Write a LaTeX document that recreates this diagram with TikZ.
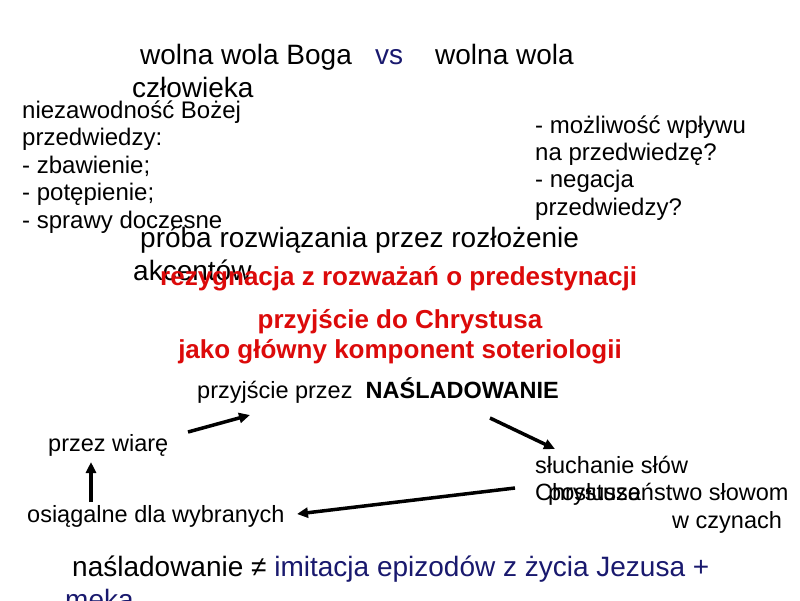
\documentclass[tikz,border=0pt]{standalone}
\usepackage{fontspec}
\setmainfont{Liberation Sans}
\usetikzlibrary{arrows.meta}
\definecolor{navy}{RGB}{25,25,110}
\definecolor{redtxt}{RGB}{220,10,10}
\begin{document}
\begin{tikzpicture}[x=1pt,y=-1pt,
  every node/.style={inner sep=0pt, anchor=base west},
  big/.style={font=\fontsize{28}{33}\selectfont},
  mid/.style={font=\fontsize{24}{27}\selectfont},
  sm/.style={font=\fontsize{23.5}{27}\selectfont},
  redbold/.style={font=\fontsize{26}{30}\selectfont\bfseries, text=redtxt},
  arr/.style={line width=3.5pt, -{Triangle[length=11pt,width=10pt]}}]
\useasboundingbox[fill=white] (0,0) rectangle (800,600);

% title
\node[big] (t1) at (140,64) {wolna wola Boga};
\node[big, text=navy] (vs) at (375,64) {vs};
\node[big] (t2) at (435,64) {wolna wola};
\node[big] (t3) at (132,97) {człowieka};

% left block
\node[mid] (l1) at (22,118) {niezawodność Bożej};
\node[mid] (l2) at (22,145.5) {przedwiedzy:};
\node[mid] (l3) at (22,173) {- zbawienie;};
\node[mid] (l4) at (22,200.5) {- potępienie;};
\node[mid] (l5) at (22,228) {- sprawy doczesne};

% right block
\node[mid] (r1) at (535,133) {- możliwość wpływu};
\node[mid] (r2) at (535,160) {na przedwiedzę?};
\node[mid] (r3) at (535,187) {- negacja};
\node[mid] (r4) at (535,215) {przedwiedzy?};

% middle
\node[big] (p1) at (140,247) {próba rozwiązania przez rozłożenie};
\node[big] (p2) at (133,280) {akcentów};
\node[redbold] (q1) at (160,285) {rezygnacja z rozważań o predestynacji};
\node[redbold, anchor=base] (q2) at (400,328) {przyjście do Chrystusa};
\node[redbold, anchor=base] (q3) at (400,358) {jako główny komponent soteriologii};
\node[sm] (n1) at (197,398) {przyjście przez\ \ \textbf{NAŚLADOWANIE}};

% lower
\node[sm] (w1) at (48,451) {przez wiarę};
\node[sm] (w2) at (27,522) {osiągalne dla wybranych};
\node[sm] (s1) at (535,473) {słuchanie słów};
\node[sm] (s2) at (535,500) {Chrystusa};
\node[sm] (s3) at (548,500) {posłuszeństwo słowom};
\node[sm] (s4) at (672,528) {w czynach};

% bottom
\node[big] (b1) at (72,576) {naśladowanie ≠ \textcolor{navy}{imitacja epizodów z życia Jezusa +}};
\node[big, text=navy] (b2) at (65,609) {męka};

% arrow ends
\coordinate (a1s) at (188,432);
\coordinate (a1e) at (250,415);
\coordinate (a2s) at (91,502);
\coordinate (a2e) at (91,462);
\coordinate (a3s) at (515,488);
\coordinate (a3e) at (297,514);
\coordinate (a4s) at (490,418);
\coordinate (a4e) at (555,449);

\draw[arr] (a1s) -- (a1e);
\draw[arr] (a2s) -- (a2e);
\draw[arr] (a3s) -- (a3e);
\draw[arr] (a4s) -- (a4e);
\end{tikzpicture}
\end{document}
